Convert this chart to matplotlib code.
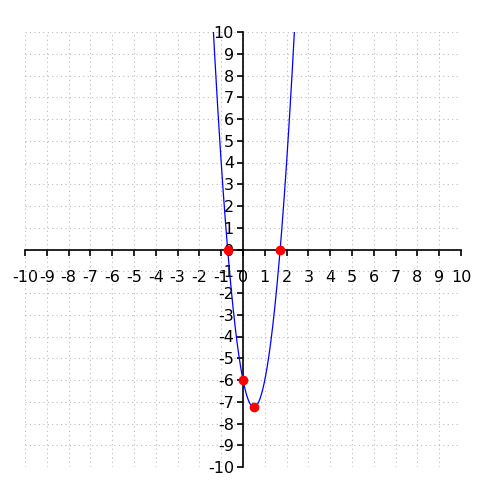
import numpy as np
import matplotlib
matplotlib.use("Agg")
import matplotlib.pyplot as plt

# quadratic y = a x^2 + b x + c
coeffs = [5.0, -5.0, -6.0]
point_x = [-0.70, 1.70, 0.0, 0.5]
point_y = [0.0, 0.0, -6.0, -7.25]
ticks = list(range(-10, 11))

fig = plt.figure(figsize=(5, 5), dpi=100)
ax = fig.add_axes([0.05, 0.066, 0.872, 0.870])
ax.set_xlim(-10, 10)
ax.set_ylim(-10, 10)

xs = np.linspace(-10, 10, 4001)
ys = np.polyval(coeffs, xs)
ax.plot(xs, ys, color="blue", lw=0.9, zorder=3)
ax.plot(point_x, point_y, "o", color="red", ms=6, zorder=4)

for s in ["top", "right"]:
    ax.spines[s].set_visible(False)
ax.spines["left"].set_position(("data", 0))
ax.spines["bottom"].set_position(("data", 0))
ax.spines["left"].set_linewidth(1.2)
ax.spines["bottom"].set_linewidth(1.2)
ax.set_xticks(ticks)
ax.set_yticks(ticks)
ax.set_xticklabels([str(t) for t in ticks])
ax.set_yticklabels([str(t) for t in ticks])
ax.tick_params(direction="out", length=4.5, width=1.2, labelsize=11.5)
ax.tick_params(axis="x", pad=10)
ax.tick_params(axis="y", pad=2)
ax.grid(True, color="#bbbbbb", linestyle=(0, (1, 3)), lw=0.8)
ax.set_axisbelow(True)

fig.savefig("out.png", dpi=100)
